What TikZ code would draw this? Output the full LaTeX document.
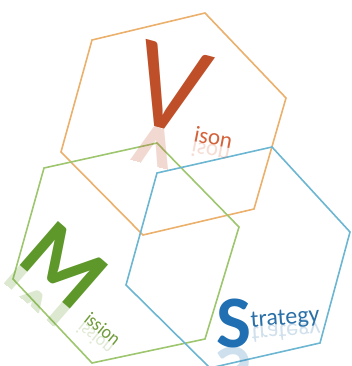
\documentclass[tikz,border=0pt]{standalone}
\usepackage{fontspec}
\setmainfont{Carlito}
\definecolor{hexorange}{HTML}{EBB06C}
\definecolor{hexgreen}{HTML}{9DC66E}
\definecolor{hexblue}{HTML}{6CB6D2}
\definecolor{vcol}{HTML}{BF4F28}
\definecolor{isoncol}{HTML}{D4623A}
\definecolor{mcol}{HTML}{5F982A}
\definecolor{missioncol}{HTML}{6F9B3A}
\definecolor{scol}{HTML}{1F6FB2}
\definecolor{stratcol}{HTML}{2A70A8}
\begin{document}
\begin{tikzpicture}[x=1pt,y=-1pt,
  txt/.style={inner sep=0pt, outer sep=0pt},
  hex/.style={line width=1.6pt, line join=miter},
  bigv/.style={txt, anchor=base, rotate=-15, text=vcol, font=\fontsize{128}{128}\selectfont},
  bigm/.style={txt, anchor=base, rotate=-41, text=mcol, font=\bfseries\fontsize{90}{90}\selectfont},
  bigs/.style={txt, anchor=base west, text=scol, font=\bfseries\fontsize{74}{74}\selectfont},
  smalltxt/.style={txt, anchor=base west, font=\fontsize{22}{22}\selectfont},
  refl/.style={text opacity=0.22}]
\useasboundingbox (0,0) rectangle (352,366);
% hexagons
\draw[hex, hexorange] (92,40) -- (205,13) -- (286,98) -- (254,209) -- (143,235) -- (61,152) -- cycle;
\draw[hex, hexgreen] (157,143) -- (239,227) -- (205,339) -- (92,363) -- (13,279) -- (44,168) -- cycle;
\draw[hex, hexblue] (157,173) -- (272,147) -- (350,232) -- (320,343) -- (210,368) -- (126,285) -- cycle;
% Vision
\node[bigv] (V) at (160,128) {V};
\begin{scope}
\clip (102,112.5) -- (218,143.5) -- (208.2,180.2) -- (92.2,149.2) -- cycle;
\node[bigv, yscale=-1, refl] (Vr) at (160,128) {V};
\end{scope}
\node[smalltxt, font=\fontsize{23}{23}\selectfont, rotate=-11, text=isoncol] (ison) at (193,141) {ison};
\node[smalltxt, font=\fontsize{23}{23}\selectfont, rotate=-11, yscale=-1, text=isoncol, refl] (isonr) at (193,141) {ison};
% Mission
\node[bigm] (M) at (45,287) {M};
\begin{scope}
\clip (-0.3,247.6) -- (90.3,326.4) -- (74.6,344.5) -- (-16,265.7) -- cycle;
\node[bigm, yscale=-1, refl] (Mr) at (45,287) {M};
\end{scope}
\node[smalltxt, font=\fontsize{19}{19}\selectfont, rotate=-39, xscale=0.92, text=missioncol] (ission) at (83,321) {ission};
\node[smalltxt, font=\fontsize{19}{19}\selectfont, rotate=-39, xscale=0.92, yscale=-1, text=missioncol, refl] (issionr) at (83,321) {ission};
% Strategy
\node[bigs] (S) at (216,347) {S};
\begin{scope}
\clip (200,347) rectangle (270,366);
\node[bigs, yscale=-1, refl] (Sr) at (216,347) {S};
\end{scope}
\node[smalltxt, rotate=4, text=stratcol, font=\fontsize{24}{24}\selectfont] (trat) at (251,327) {trategy};
\node[smalltxt, rotate=4, yscale=-1, text=stratcol, refl, font=\fontsize{24}{24}\selectfont] (tratr) at (251,327) {trategy};
\end{tikzpicture}
\end{document}
